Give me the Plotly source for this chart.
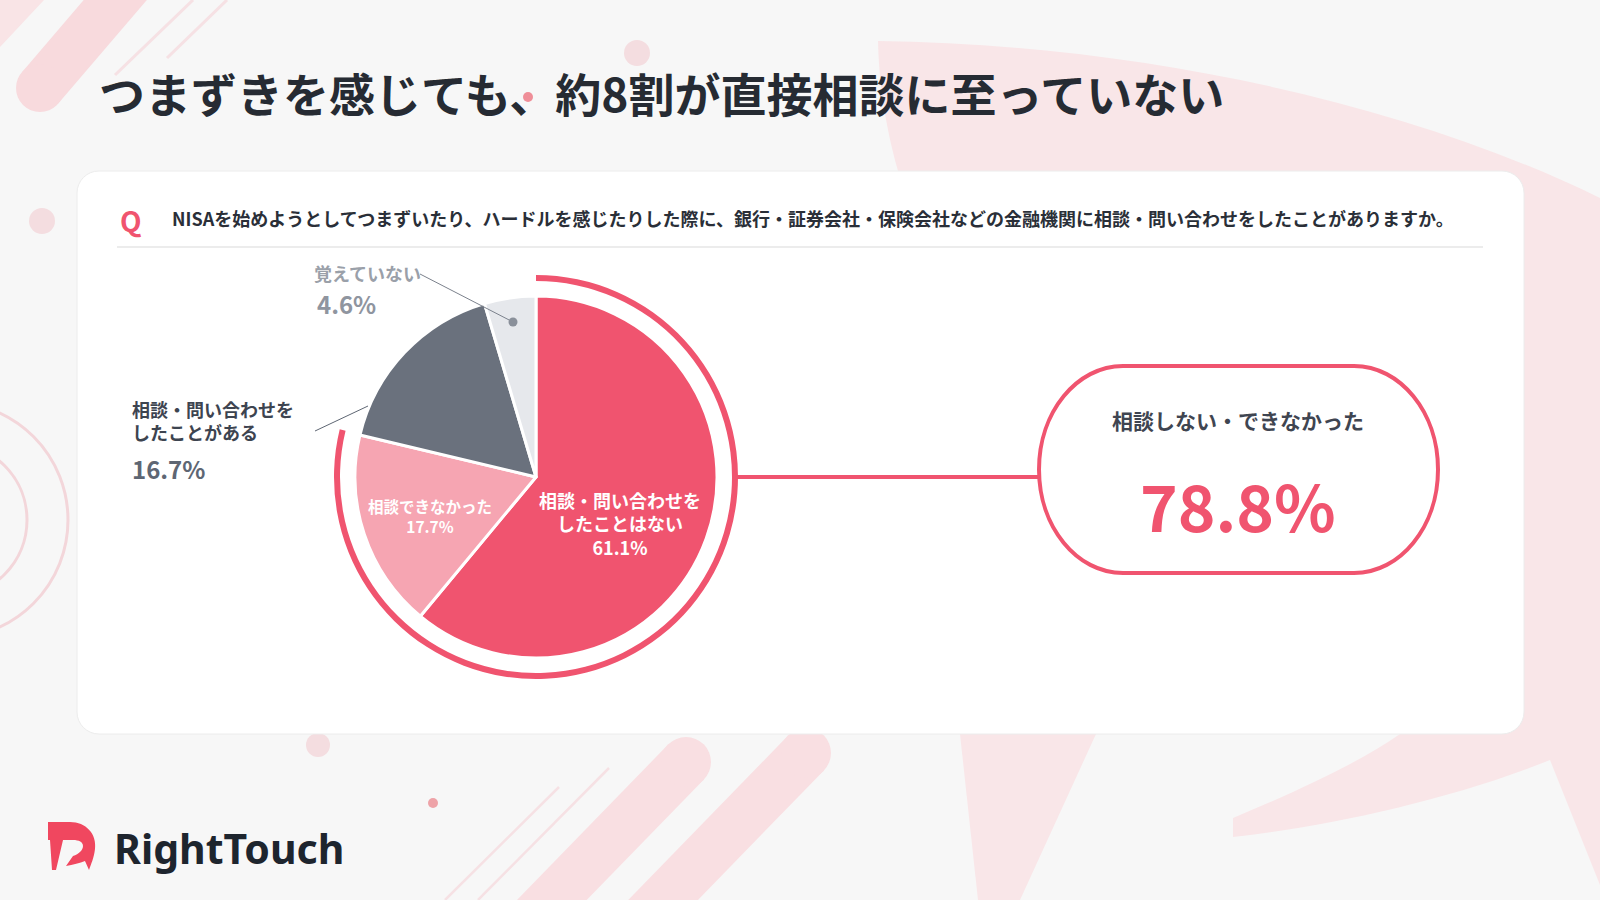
import plotly.graph_objects as go

# ---------------- data ----------------
title_text = "つまずきを感じても、約8割が直接相談に至っていない"
question_text = ("NISAを始めようとしてつまずいたり、ハードルを感じたりした際に、"
                 "銀行・証券会社・保険会社などの金融機関に相談・問い合わせをしたことがありますか。")
categories = ["相談・問い合わせを\nしたことはない", "相談できなかった",
              "相談・問い合わせを\nしたことがある", "覚えていない"]
values = [61.1, 17.7, 16.7, 4.6]
slice_colors = ["#f0546f", "#f6a5b2", "#6a717d", "#e6e8ec"]
summary_label = "相談しない・できなかった"
summary_value = 78.8          # 相談しない(61.1) + 相談できなかった(17.7)
brand = "RightTouch"

W, H = 1600, 900
FONT = "Noto Sans CJK JP"
PINK = "#f0546f"


def px(x):
    return x / W


def py(y):
    return 1 - y / H


def pt(x, y):
    return f"{px(x):.5f},{py(y):.5f}"


def path(cmds):
    out = []
    for c in cmds:
        if isinstance(c, str):
            out.append(c)
        else:
            out.append(pt(*c))
    return " ".join(out)


K = 0.5523


def rrect(x0, y0, x1, y1, r):
    k = r * (1 - K)
    return path(["M", (x0 + r, y0), "L", (x1 - r, y0),
                 "C", (x1 - k, y0), (x1, y0 + k), (x1, y0 + r),
                 "L", (x1, y1 - r),
                 "C", (x1, y1 - k), (x1 - k, y1), (x1 - r, y1),
                 "L", (x0 + r, y1),
                 "C", (x0 + k, y1), (x0, y1 - k), (x0, y1 - r),
                 "L", (x0, y0 + r),
                 "C", (x0, y0 + k), (x0 + k, y0), (x0 + r, y0), "Z"])


def stadium(cx, cy, hw, hh, rx):
    xl, xr = cx - hw + rx, cx + hw - rx
    t, b = cy - hh, cy + hh
    return path(["M", (xl, t), "L", (xr, t),
                 "C", (xr + K * rx, t), (cx + hw, cy - K * hh), (cx + hw, cy),
                 "C", (cx + hw, cy + K * hh), (xr + K * rx, b), (xr, b),
                 "L", (xl, b),
                 "C", (xl - K * rx, b), (cx - hw, cy + K * hh), (cx - hw, cy),
                 "C", (cx - hw, cy - K * hh), (xl - K * rx, t), (xl, t), "Z"])


shapes = []


def add_path(p, fill, line_color=None, lw=0, layer="below"):
    shapes.append(dict(type="path", path=p, xref="paper", yref="paper",
                       fillcolor=fill, layer=layer,
                       line=dict(color=line_color or "rgba(0,0,0,0)", width=lw)))


def add_circle(cx, cy, r, fill, line_color=None, lw=0, layer="below"):
    shapes.append(dict(type="circle", xref="paper", yref="paper",
                       x0=px(cx - r), x1=px(cx + r), y0=py(cy + r), y1=py(cy - r),
                       fillcolor=fill, layer=layer,
                       line=dict(color=line_color or "rgba(0,0,0,0)", width=lw)))


def add_line(x0, y0, x1, y1, color, lw, layer="below"):
    shapes.append(dict(type="line", xref="paper", yref="paper",
                       x0=px(x0), y0=py(y0), x1=px(x1), y1=py(y1),
                       layer=layer, line=dict(color=color, width=lw)))


def add_band(cx, cy, dx, dy, length, hw, fill):
    n = (dx * dx + dy * dy) ** 0.5
    dx, dy = dx / n, dy / n
    nx, ny = -dy, dx
    ex, ey = cx + dx * length, cy + dy * length
    add_path(path(["M", (cx + nx * hw, cy + ny * hw), "L", (ex + nx * hw, ey + ny * hw),
                   "L", (ex - nx * hw, ey - ny * hw), "L", (cx - nx * hw, cy - ny * hw), "Z"]), fill)
    add_circle(cx, cy, hw, fill)


# ---------------- background decoration ----------------
BG_PINK = "#f9e6e8"
add_path(path(["M", (878, 41), "C", (1130, 44), (1400, 100), (1600, 198),
               "L", (1600, 885), "L", (1550, 760),
               "C", (1450, 800), (1330, 826), (1233, 837),
               "L", (1233, 818),
               "C", (1300, 790), (1360, 762), (1400, 734),
               "L", (1096, 734), "L", (1020, 900), "L", (978, 900), "L", (960, 734),
               "L", (898, 171), "C", (884, 120), (879, 80), (878, 41), "Z"]), BG_PINK)

add_path(path(["M", (0, 0), "L", (44, 0), "L", (0, 47), "Z"]), "#f9e4e6")
add_band(40, 88, 0.65, -0.76, 170, 24, "#f8dadd")
add_line(115, 75, 193, 0, "#f6e1e4", 3)
add_line(167, 58, 227, 0, "#f6e1e4", 3)

add_band(686, 762, -0.7, 0.72, 250, 25, "#f9dfe2")
add_band(806, 753, -0.7, 0.72, 250, 25, "#f9dfe2")
add_line(559, 787, 445, 900, "#f6e1e4", 2.5)
add_line(609, 768, 478, 900, "#f6e1e4", 2.5)

add_circle(-50, 520, 118, "rgba(0,0,0,0)", "#f3d6da", 3)
add_circle(-50, 520, 77, "rgba(0,0,0,0)", "#f3d6da", 3)

add_circle(42, 221, 13, "#f4dde0")
add_circle(637, 53, 13, "#f4dde0")
add_circle(318, 745, 12, "#f4dde0")
add_circle(433, 803, 5, "#eea3a8")
add_circle(528, 97, 5, "#ef8e98", layer="above")

# ---------------- card ----------------
add_path(rrect(77, 171, 1524, 734, 22), "#ffffff", "#ececec", 1)
add_line(117, 247, 1483, 247, "#e6e6e6", 1.5)

# connector + summary pill
add_line(737, 477, 1039, 477, PINK, 4)
add_path(stadium(1238.5, 469.5, 199.5, 103.5, 84), "#ffffff", PINK, 4)

# leader lines (above the pie)
add_line(420, 274, 513, 322, "#7b818c", 1, layer="above")
add_circle(513, 322, 4.5, "#8a909a", layer="above")
add_line(315, 431, 368, 406, "#5e6673", 1, layer="above")

# logo mark
add_path(path(["M", (48, 822), "L", (70, 822), "C", (86, 822), (97, 834), (95, 849),
               "C", (94, 858), (91, 864), (89, 870), "L", (85, 861),
               "C", (80, 863), (73, 865), (66, 866), "L", (73, 856),
               "C", (79, 854), (83, 850), (83, 846), "C", (83, 842), (79, 840), (73, 840),
               "L", (63, 840), "L", (56, 870), "L", (52, 870), "L", (50, 840), "L", (48, 840), "Z"]),
         "#f0475f", layer="above")

# ---------------- pie traces ----------------
pie_cx, pie_cy, pie_r = 536, 477, 181
ring_r = 202


def dom(cx, cy, r):
    return dict(x=[px(cx - r), px(cx + r)], y=[py(cy + r), py(cy - r)])


fig = go.Figure()
fig.add_trace(go.Pie(
    values=[summary_value, 100 - summary_value],
    marker=dict(colors=[PINK, "rgba(0,0,0,0)"], line=dict(width=0)),
    hole=196 / ring_r, sort=False, direction="clockwise", rotation=0,
    textinfo="none", hoverinfo="skip", domain=dom(pie_cx, pie_cy, ring_r), showlegend=False))
fig.add_trace(go.Pie(
    labels=[c.replace("\n", "") for c in categories], values=values,
    marker=dict(colors=slice_colors, line=dict(color="#ffffff", width=3)),
    sort=False, direction="clockwise", rotation=0,
    textinfo="none", hoverinfo="label+percent",
    domain=dom(pie_cx, pie_cy, pie_r), showlegend=False))

# ---------------- text ----------------
ann = []


def text(x, y, s, size, color, xanchor="center", weight=700, family=FONT, align="center"):
    ann.append(dict(x=px(x), y=py(y), xref="paper", yref="paper", text=s, showarrow=False,
                    xanchor=xanchor, yanchor="middle", align=align,
                    font=dict(family=family, size=size, color=color, weight=weight)))


text(97, 92, title_text, 46, "#262b33", "left")
text(131, 220, "Q", 28, PINK)
text(170, 218, question_text, 18, "#2a2f38", "left")

# slice 1 (inside)
text(620, 523, "<br>".join(categories[0].split("\n") + [f"{values[0]}%"]), 18, "#ffffff")
# slice 2 (inside)
text(430, 516, "<br>".join(categories[1].split("\n") + [f"{values[1]}%"]), 15.5, "#ffffff")
# slice 3 (outside)
text(130, 420, "<br>".join(categories[2].split("\n")), 18, "#3d4450", "left", align="left")
text(130, 468, f"{values[2]}%", 24, "#5e6673", "left")
# slice 4 (outside)
text(312, 273, categories[3], 18, "#9aa0a9", "left")
text(315, 303, f"{values[3]}%", 24, "#8f959f", "left")

# summary
text(1238, 420, summary_label, 21, "#3f4551")
text(1238, 504, f"{summary_value:.1f}%", 64, PINK)

# brand
text(112, 848, brand, 41, "#1e252e", "left", family="Noto Sans")

fig.update_layout(
    width=W, height=H, margin=dict(l=0, r=0, t=0, b=0),
    paper_bgcolor="#f7f7f7", plot_bgcolor="rgba(0,0,0,0)",
    shapes=shapes, annotations=ann, showlegend=False,
    font=dict(family=FONT),
)

fig.write_html("out.html", config={"displayModeBar": False},
               post_script="document.body.style.margin='0';document.body.style.background='#f7f7f7';")
